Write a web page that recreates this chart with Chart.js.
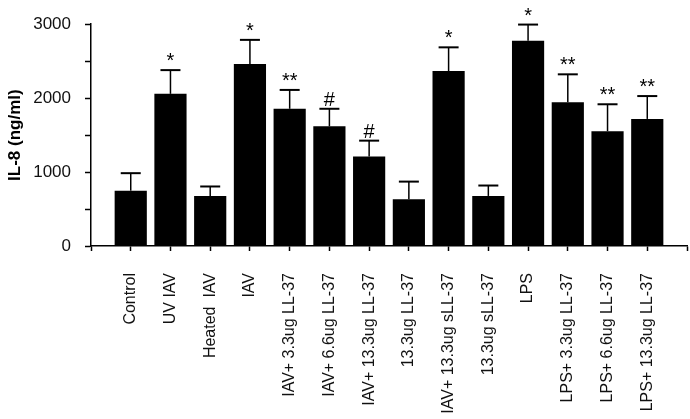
<!DOCTYPE html>
<html>
<head>
<meta charset="utf-8">
<script src="https://cdn.jsdelivr.net/npm/chart.js@4"></script>
<style>
  html, body { margin: 0; padding: 0; background: #fff; }
</style>
</head>
<body>
<canvas id="il8Chart" width="690" height="419"></canvas>
<script>
const groups = ['Control', 'UV IAV', 'Heated  IAV', 'IAV', 'IAV+ 3.3ug LL-37', 'IAV+ 6.6ug LL-37',
  'IAV+ 13.3ug LL-37', '13.3ug LL-37', 'IAV+ 13.3ug sLL-37', '13.3ug sLL-37', 'LPS',
  'LPS+ 3.3ug LL-37', 'LPS+ 6.6ug LL-37', 'LPS+ 13.3ug LL-37'];
const meanIL8 = [748, 2058, 677, 2463, 1856, 1619, 1210, 633, 2366, 677, 2775, 1943, 1553, 1719];
const errIL8 = [237, 321, 128, 325, 255, 237, 215, 238, 321, 141, 220, 379, 364, 309];
const marks = ['', '*', '', '*', '**', '#', '#', '', '*', '', '*', '**', '**', '**'];
const yTicks = [0, 1000, 2000, 3000];

const errorBars = {
  id: 'errorBars',
  afterDatasetsDraw(chart) {
    const { ctx, scales: { x, y } } = chart;
    ctx.save();
    ctx.strokeStyle = '#000';
    ctx.fillStyle = '#000';
    ctx.font = '20px "Liberation Sans", Arial, sans-serif';
    ctx.textAlign = 'center';
    ctx.textBaseline = 'alphabetic';
    meanIL8.forEach((m, i) => {
      const px = x.getPixelForValue(i);
      const yBar = y.getPixelForValue(m);
      const yTop = y.getPixelForValue(m + errIL8[i]);
      ctx.lineWidth = 1.5;
      ctx.beginPath();
      ctx.moveTo(px, yBar);
      ctx.lineTo(px, yTop);
      ctx.stroke();
      ctx.lineWidth = 2;
      ctx.beginPath();
      ctx.moveTo(px - 10, yTop);
      ctx.lineTo(px + 10, yTop);
      ctx.stroke();
      if (marks[i]) {
        ctx.fillText(marks[i], px, yTop - 3);
      }
    });
    ctx.restore();
  }
};

const chart = new Chart(document.getElementById('il8Chart').getContext('2d'), {
  type: 'bar',
  data: {
    datasets: [{
      label: 'IL-8',
      data: meanIL8.map((v, i) => ({ x: i, y: v })),
      backgroundColor: '#000',
      borderWidth: 0,
      barPercentage: 0.9,
      categoryPercentage: 0.9
    }]
  },
  options: {
    responsive: false,
    animation: false,
    layout: { padding: { top: 19, right: 3, left: 0, bottom: 0 } },
    plugins: {
      legend: { display: false },
      tooltip: { enabled: false }
    },
    scales: {
      x: {
        type: 'linear',
        offset: false,
        min: -1,
        max: groups.length,
        afterBuildTicks: scale => {
          const t = [{ value: -1 }];
          groups.forEach((g, i) => t.push({ value: i }));
          t.push({ value: groups.length });
          scale.ticks = t;
        },
        afterFit: scale => {
          scale.height = 173;
          scale.paddingLeft = 0;
          scale.paddingRight = 0;
        },
        border: { display: true, color: '#000', width: 1.5 },
        grid: { offset: false, drawOnChartArea: false, drawTicks: true, tickLength: 5, color: '#000', tickWidth: 1.5 },
        ticks: {
          autoSkip: false,
          minRotation: 90,
          maxRotation: 90,
          padding: 22,
          color: '#111',
          font: { family: '"Liberation Sans", Arial, sans-serif', size: 16 },
          callback: v => (v >= 0 && v < groups.length ? groups[v] : '')
        }
      },
      y: {
        min: 0,
        max: 3000,
        afterFit: scale => { scale.width = 91; },
        border: { display: true, color: '#000', width: 1.5 },
        grid: { drawOnChartArea: false, drawTicks: true, tickLength: 6, color: '#000', tickWidth: 1.5 },
        ticks: {
          stepSize: 500,
          padding: 14,
          color: '#111',
          font: { family: '"Liberation Sans", Arial, sans-serif', size: 17 },
          callback: v => (yTicks.includes(v) ? v : '')
        },
        title: {
          display: true,
          text: 'IL-8 (ng/ml)',
          color: '#000',
          padding: { top: 5, bottom: 0 },
          font: { family: '"Liberation Sans", Arial, sans-serif', size: 17, weight: 'bold' }
        }
      }
    }
  },
  plugins: [errorBars]
});
</script>
</body>
</html>
